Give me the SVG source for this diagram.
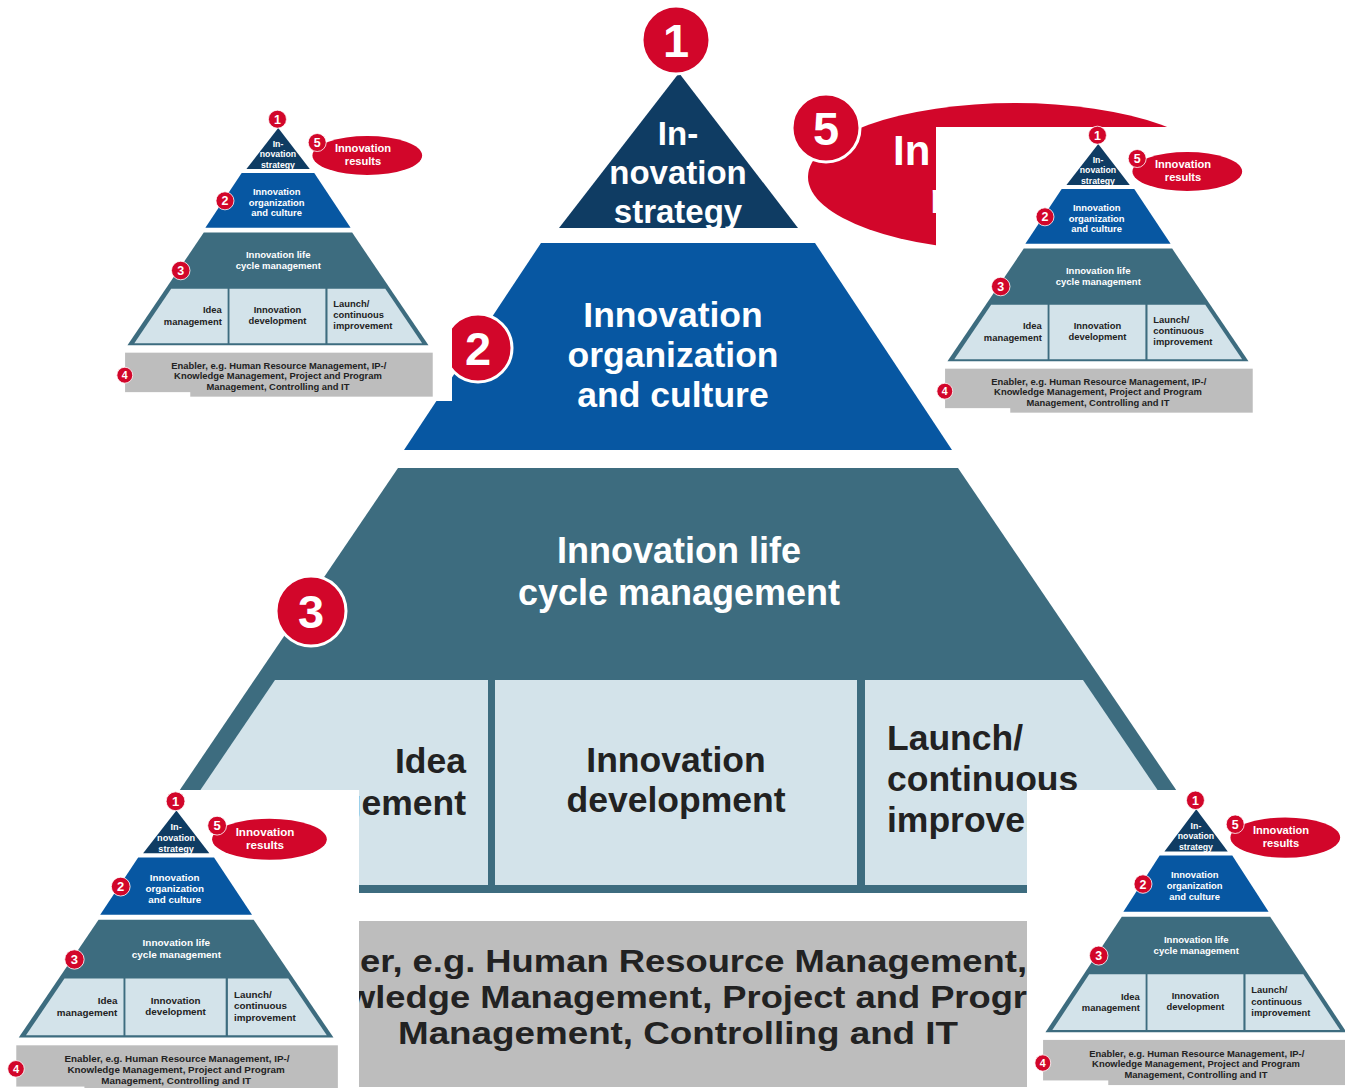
<svg xmlns="http://www.w3.org/2000/svg" width="1345" height="1088" viewBox="0 0 1345 1088">
<style>
.navy{fill:#0f3c63}
.blue{fill:#0757a2}
.teal{fill:#3d6c7f}
.box{fill:#d3e3ea}
.gray{fill:#bdbdbd}
.red{fill:#d2062a}
.white{fill:#ffffff}
.badge{fill:#d2062a;stroke:#ffffff;stroke-width:3}
.wt{fill:#ffffff;font-family:"Liberation Sans",Arial,sans-serif;font-weight:bold;text-anchor:middle}
.st{text-anchor:start}
.dk{fill:#222222;font-family:"Liberation Sans",Arial,sans-serif;font-weight:bold;font-size:35.5px}
.en{fill:#222222;font-family:"Liberation Sans",Arial,sans-serif;font-weight:bold;font-size:32px}
.num{font-size:47px}
</style>
<rect x="0" y="0" width="1345" height="1088" fill="#ffffff"/>
<g id="connectors"/>
<g id="big">
<g id="big-results"><ellipse class="red" cx="1015" cy="177" rx="207" ry="74"/><text class="wt st" x="893" y="165" font-size="42">In</text><text class="wt st" x="930" y="213" font-size="42">r</text></g>
<g id="big-badge5"><circle class="badge" cx="826" cy="128" r="34"/><text class="wt num" x="826" y="145">5</text></g>
<g id="big-strategy"><polygon class="navy" points="679,73 798,228 559,228"/><text class="wt" font-size="33"><tspan x="678" y="145">In-</tspan><tspan x="678" y="184">novation</tspan><tspan x="678" y="223">strategy</tspan></text></g>
<g id="big-badge1"><circle class="badge" cx="676" cy="40" r="34"/><text class="wt num" x="676" y="57">1</text></g>
<g id="big-organization"><polygon class="blue" points="541,243 815,243 952,450 404,450"/><text class="wt" font-size="35.5"><tspan x="673" y="327">Innovation</tspan><tspan x="673" y="367">organization</tspan><tspan x="673" y="407">and culture</tspan></text></g>
<g id="big-badge2"><circle class="badge" cx="478" cy="348" r="34"/><text class="wt num" x="478" y="365">2</text></g>
<g id="big-lifecycle"><polygon class="teal" points="398,468 958,468 1246,893 110,893"/><text class="wt" font-size="36"><tspan x="679" y="563">Innovation life</tspan><tspan x="679" y="605">cycle management</tspan></text>
<polygon class="box" points="275,680 488,680 488,885 136,885"/>
<polygon class="box" points="495,680 857,680 857,885 495,885"/>
<polygon class="box" points="865,680 1083,680 1222,885 865,885"/>
<text class="dk" text-anchor="end"><tspan x="466" y="773">Idea</tspan><tspan x="466" y="815">management</tspan></text>
<text class="dk" text-anchor="middle"><tspan x="676" y="772">Innovation</tspan><tspan x="676" y="812">development</tspan></text>
<text class="dk" text-anchor="start"><tspan x="887" y="750">Launch/</tspan><tspan x="887" y="791">continuous</tspan><tspan x="887" y="832">improvement</tspan></text>
</g>
<g id="big-badge3"><circle class="badge" cx="311" cy="611" r="35"/><text class="wt num" x="311" y="628">3</text></g>
<g id="big-enabler"><rect class="gray" x="101" y="921" width="1161" height="166"/>
<text class="en" x="360" y="972" textLength="667" lengthAdjust="spacingAndGlyphs">er, e.g. Human Resource Management,</text>
<text class="en" x="347" y="1008" textLength="680" lengthAdjust="spacingAndGlyphs">wledge Management, Project and Progr</text>
<text class="en" x="398" y="1044" textLength="560" lengthAdjust="spacingAndGlyphs">Management, Controlling and IT</text>
</g>
</g>

<rect class="white" x="0" y="90" width="452" height="311"/>
<g id="tl" transform="translate(98.3,108.6) scale(0.265)">
<g id="tl-results"><ellipse class="red" cx="1015" cy="177" rx="207" ry="74"/><text class="wt" x="999" y="165" font-size="42">Innovation</text><text class="wt" x="999" y="213" font-size="42">results</text></g>
<g id="tl-badge5"><circle class="badge" cx="826" cy="128" r="34"/><text class="wt num" x="826" y="145">5</text></g>
<g id="tl-strategy"><polygon class="navy" points="679,73 798,228 559,228"/><text class="wt" font-size="33"><tspan x="678" y="145">In-</tspan><tspan x="678" y="184">novation</tspan><tspan x="678" y="223">strategy</tspan></text></g>
<g id="tl-badge1"><circle class="badge" cx="676" cy="40" r="34"/><text class="wt num" x="676" y="57">1</text></g>
<g id="tl-organization"><polygon class="blue" points="541,243 815,243 952,450 404,450"/><text class="wt" font-size="35.5"><tspan x="673" y="327">Innovation</tspan><tspan x="673" y="367">organization</tspan><tspan x="673" y="407">and culture</tspan></text></g>
<g id="tl-badge2"><circle class="badge" cx="478" cy="348" r="34"/><text class="wt num" x="478" y="365">2</text></g>
<g id="tl-lifecycle"><polygon class="teal" points="398,468 958,468 1246,893 110,893"/><text class="wt" font-size="36"><tspan x="679" y="563">Innovation life</tspan><tspan x="679" y="605">cycle management</tspan></text>
<polygon class="box" points="275,680 488,680 488,885 136,885"/>
<polygon class="box" points="495,680 857,680 857,885 495,885"/>
<polygon class="box" points="865,680 1083,680 1222,885 865,885"/>
<text class="dk" text-anchor="end"><tspan x="466" y="773">Idea</tspan><tspan x="466" y="815">management</tspan></text>
<text class="dk" text-anchor="middle"><tspan x="676" y="772">Innovation</tspan><tspan x="676" y="812">development</tspan></text>
<text class="dk" text-anchor="start"><tspan x="887" y="750">Launch/</tspan><tspan x="887" y="791">continuous</tspan><tspan x="887" y="832">improvement</tspan></text>
</g>
<g id="tl-badge3"><circle class="badge" cx="311" cy="611" r="35"/><text class="wt num" x="311" y="628">3</text></g>
<g id="tl-enabler"><rect class="gray" x="101" y="921" width="1161" height="166"/><text class="dk" text-anchor="middle"><tspan x="681" y="982">Enabler, e.g. Human Resource Management, IP-/</tspan><tspan x="678" y="1022">Knowledge Management, Project and Program</tspan><tspan x="678" y="1062">Management, Controlling and IT</tspan></text><rect class="white" x="100" y="1070" width="247" height="23"/></g>
<g id="tl-badge4"><circle class="badge" cx="100" cy="1006" r="30"/><text class="wt" font-size="40" x="100" y="1021">4</text></g>
</g>

<rect class="white" x="936" y="127" width="409" height="289"/>
<g id="tr" transform="translate(918.3,124.6) scale(0.265)">
<g id="tr-results"><ellipse class="red" cx="1015" cy="177" rx="207" ry="74"/><text class="wt" x="999" y="165" font-size="42">Innovation</text><text class="wt" x="999" y="213" font-size="42">results</text></g>
<g id="tr-badge5"><circle class="badge" cx="826" cy="128" r="34"/><text class="wt num" x="826" y="145">5</text></g>
<g id="tr-strategy"><polygon class="navy" points="679,73 798,228 559,228"/><text class="wt" font-size="33"><tspan x="678" y="145">In-</tspan><tspan x="678" y="184">novation</tspan><tspan x="678" y="223">strategy</tspan></text></g>
<g id="tr-badge1"><circle class="badge" cx="676" cy="40" r="34"/><text class="wt num" x="676" y="57">1</text></g>
<g id="tr-organization"><polygon class="blue" points="541,243 815,243 952,450 404,450"/><text class="wt" font-size="35.5"><tspan x="673" y="327">Innovation</tspan><tspan x="673" y="367">organization</tspan><tspan x="673" y="407">and culture</tspan></text></g>
<g id="tr-badge2"><circle class="badge" cx="478" cy="348" r="34"/><text class="wt num" x="478" y="365">2</text></g>
<g id="tr-lifecycle"><polygon class="teal" points="398,468 958,468 1246,893 110,893"/><text class="wt" font-size="36"><tspan x="679" y="563">Innovation life</tspan><tspan x="679" y="605">cycle management</tspan></text>
<polygon class="box" points="275,680 488,680 488,885 136,885"/>
<polygon class="box" points="495,680 857,680 857,885 495,885"/>
<polygon class="box" points="865,680 1083,680 1222,885 865,885"/>
<text class="dk" text-anchor="end"><tspan x="466" y="773">Idea</tspan><tspan x="466" y="815">management</tspan></text>
<text class="dk" text-anchor="middle"><tspan x="676" y="772">Innovation</tspan><tspan x="676" y="812">development</tspan></text>
<text class="dk" text-anchor="start"><tspan x="887" y="750">Launch/</tspan><tspan x="887" y="791">continuous</tspan><tspan x="887" y="832">improvement</tspan></text>
</g>
<g id="tr-badge3"><circle class="badge" cx="311" cy="611" r="35"/><text class="wt num" x="311" y="628">3</text></g>
<g id="tr-enabler"><rect class="gray" x="101" y="921" width="1161" height="166"/><text class="dk" text-anchor="middle"><tspan x="681" y="982">Enabler, e.g. Human Resource Management, IP-/</tspan><tspan x="678" y="1022">Knowledge Management, Project and Program</tspan><tspan x="678" y="1062">Management, Controlling and IT</tspan></text><rect class="white" x="100" y="1070" width="247" height="23"/></g>
<g id="tr-badge4"><circle class="badge" cx="100" cy="1006" r="30"/><text class="wt" font-size="40" x="100" y="1021">4</text></g>
</g>

<rect class="white" x="0" y="790" width="359" height="298"/>
<g id="bl" transform="translate(-11.7,790.2) scale(0.277)">
<g id="bl-results"><ellipse class="red" cx="1015" cy="177" rx="207" ry="74"/><text class="wt" x="999" y="165" font-size="42">Innovation</text><text class="wt" x="999" y="213" font-size="42">results</text></g>
<g id="bl-badge5"><circle class="badge" cx="826" cy="128" r="34"/><text class="wt num" x="826" y="145">5</text></g>
<g id="bl-strategy"><polygon class="navy" points="679,73 798,228 559,228"/><text class="wt" font-size="33"><tspan x="678" y="145">In-</tspan><tspan x="678" y="184">novation</tspan><tspan x="678" y="223">strategy</tspan></text></g>
<g id="bl-badge1"><circle class="badge" cx="676" cy="40" r="34"/><text class="wt num" x="676" y="57">1</text></g>
<g id="bl-organization"><polygon class="blue" points="541,243 815,243 952,450 404,450"/><text class="wt" font-size="35.5"><tspan x="673" y="327">Innovation</tspan><tspan x="673" y="367">organization</tspan><tspan x="673" y="407">and culture</tspan></text></g>
<g id="bl-badge2"><circle class="badge" cx="478" cy="348" r="34"/><text class="wt num" x="478" y="365">2</text></g>
<g id="bl-lifecycle"><polygon class="teal" points="398,468 958,468 1246,893 110,893"/><text class="wt" font-size="36"><tspan x="679" y="563">Innovation life</tspan><tspan x="679" y="605">cycle management</tspan></text>
<polygon class="box" points="275,680 488,680 488,885 136,885"/>
<polygon class="box" points="495,680 857,680 857,885 495,885"/>
<polygon class="box" points="865,680 1083,680 1222,885 865,885"/>
<text class="dk" text-anchor="end"><tspan x="466" y="773">Idea</tspan><tspan x="466" y="815">management</tspan></text>
<text class="dk" text-anchor="middle"><tspan x="676" y="772">Innovation</tspan><tspan x="676" y="812">development</tspan></text>
<text class="dk" text-anchor="start"><tspan x="887" y="750">Launch/</tspan><tspan x="887" y="791">continuous</tspan><tspan x="887" y="832">improvement</tspan></text>
</g>
<g id="bl-badge3"><circle class="badge" cx="311" cy="611" r="35"/><text class="wt num" x="311" y="628">3</text></g>
<g id="bl-enabler"><rect class="gray" x="101" y="921" width="1161" height="166"/><text class="dk" text-anchor="middle"><tspan x="681" y="982">Enabler, e.g. Human Resource Management, IP-/</tspan><tspan x="678" y="1022">Knowledge Management, Project and Program</tspan><tspan x="678" y="1062">Management, Controlling and IT</tspan></text><rect class="white" x="100" y="1070" width="247" height="23"/></g>
<g id="bl-badge4"><circle class="badge" cx="100" cy="1006" r="30"/><text class="wt" font-size="40" x="100" y="1021">4</text></g>
</g>

<rect class="white" x="1027" y="790" width="318" height="298"/>
<g id="br" transform="translate(1016.3,789.4) scale(0.265,0.272)">
<g id="br-results"><ellipse class="red" cx="1015" cy="177" rx="207" ry="74"/><text class="wt" x="999" y="165" font-size="42">Innovation</text><text class="wt" x="999" y="213" font-size="42">results</text></g>
<g id="br-badge5"><circle class="badge" cx="826" cy="128" r="34"/><text class="wt num" x="826" y="145">5</text></g>
<g id="br-strategy"><polygon class="navy" points="679,73 798,228 559,228"/><text class="wt" font-size="33"><tspan x="678" y="145">In-</tspan><tspan x="678" y="184">novation</tspan><tspan x="678" y="223">strategy</tspan></text></g>
<g id="br-badge1"><circle class="badge" cx="676" cy="40" r="34"/><text class="wt num" x="676" y="57">1</text></g>
<g id="br-organization"><polygon class="blue" points="541,243 815,243 952,450 404,450"/><text class="wt" font-size="35.5"><tspan x="673" y="327">Innovation</tspan><tspan x="673" y="367">organization</tspan><tspan x="673" y="407">and culture</tspan></text></g>
<g id="br-badge2"><circle class="badge" cx="478" cy="348" r="34"/><text class="wt num" x="478" y="365">2</text></g>
<g id="br-lifecycle"><polygon class="teal" points="398,468 958,468 1246,893 110,893"/><text class="wt" font-size="36"><tspan x="679" y="563">Innovation life</tspan><tspan x="679" y="605">cycle management</tspan></text>
<polygon class="box" points="275,680 488,680 488,885 136,885"/>
<polygon class="box" points="495,680 857,680 857,885 495,885"/>
<polygon class="box" points="865,680 1083,680 1222,885 865,885"/>
<text class="dk" text-anchor="end"><tspan x="466" y="773">Idea</tspan><tspan x="466" y="815">management</tspan></text>
<text class="dk" text-anchor="middle"><tspan x="676" y="772">Innovation</tspan><tspan x="676" y="812">development</tspan></text>
<text class="dk" text-anchor="start"><tspan x="887" y="750">Launch/</tspan><tspan x="887" y="791">continuous</tspan><tspan x="887" y="832">improvement</tspan></text>
</g>
<g id="br-badge3"><circle class="badge" cx="311" cy="611" r="35"/><text class="wt num" x="311" y="628">3</text></g>
<g id="br-enabler"><rect class="gray" x="101" y="921" width="1161" height="166"/><text class="dk" text-anchor="middle"><tspan x="681" y="982">Enabler, e.g. Human Resource Management, IP-/</tspan><tspan x="678" y="1022">Knowledge Management, Project and Program</tspan><tspan x="678" y="1062">Management, Controlling and IT</tspan></text><rect class="white" x="100" y="1070" width="247" height="23"/></g>
<g id="br-badge4"><circle class="badge" cx="100" cy="1006" r="30"/><text class="wt" font-size="40" x="100" y="1021">4</text></g>
</g>
</svg>
